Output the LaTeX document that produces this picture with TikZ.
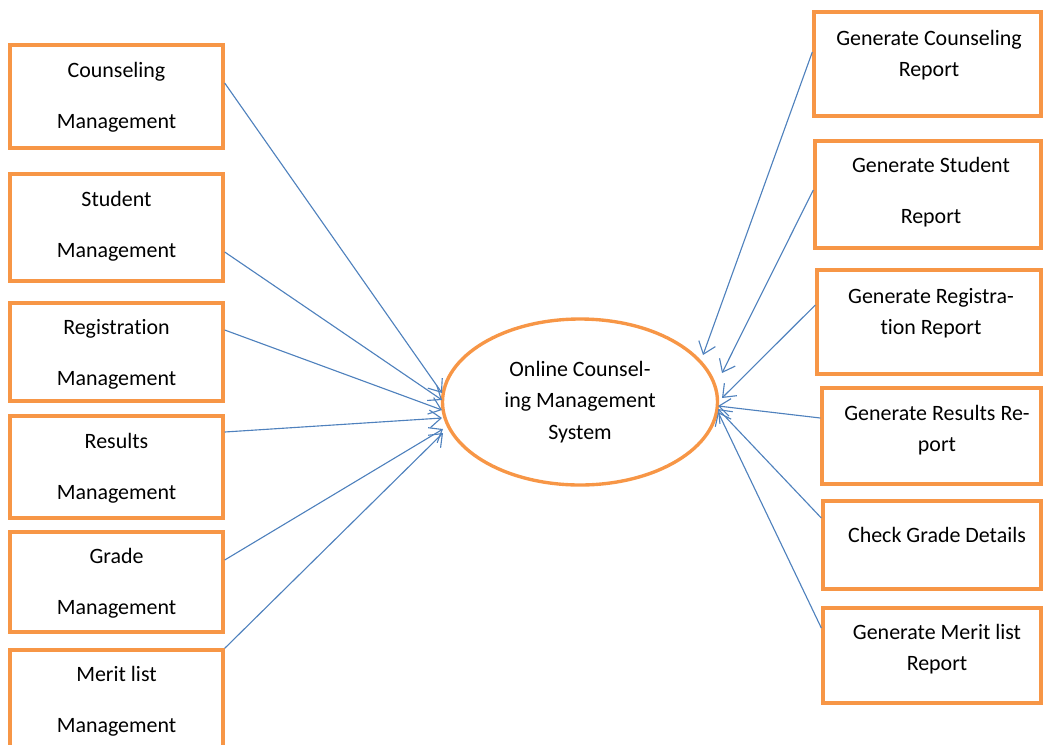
\documentclass[tikz,border=0pt]{standalone}
\usepackage{fontspec}
\setmainfont{Carlito}[Ligatures=NoCommon]
\usetikzlibrary{shapes.geometric,arrows.meta,calc}

\begin{document}
\begin{tikzpicture}[x=0.025cm,y=-0.025cm]
\definecolor{boxorange}{HTML}{F79646}
\definecolor{linkblue}{HTML}{4F81BD}
\def\PX{0.025cm}
\tikzset{
  box/.style={draw=boxorange, line width=2.4pt, inner sep=0pt},
  lbl/.style={align=center, inner sep=0pt, font=\fontsize{15.6}{22}\selectfont},
  link/.style={draw=linkblue, line width=0.8pt, -{Straight Barb[length=2.8mm,width=4.4mm]}}
}
\clip (0,0) rectangle (1043,744);
% modules on the left
\node[box, minimum width=213*\PX, minimum height=103*\PX] (cm) at (116.5,96.5) {};
\node[lbl] (t-cm) at (116.5,97.5) {Counseling\\[14.3pt]Management};
\node[box, minimum width=213*\PX, minimum height=107*\PX] (sm) at (116.5,227.5) {};
\node[lbl] (t-sm) at (116.5,226) {Student\\[14.3pt]Management};
\node[box, minimum width=213*\PX, minimum height=98*\PX] (rm) at (116.5,352) {};
\node[lbl] (t-rm) at (116.5,354.5) {Registration\\[14.3pt]Management};
\node[box, minimum width=213*\PX, minimum height=102*\PX] (resm) at (116.5,467) {};
\node[lbl] (t-resm) at (116.5,468) {Results\\[14.3pt]Management};
\node[box, minimum width=213*\PX, minimum height=100*\PX] (gm) at (116.5,582) {};
\node[lbl] (t-gm) at (116.5,583) {Grade\\[14.3pt]Management};
\node[box, minimum width=213*\PX, minimum height=102*\PX] (mlm) at (116.5,701) {};
\node[lbl] (t-mlm) at (116.5,701) {Merit list\\[14.3pt]Management};
% the system
\node[ellipse, draw=boxorange, line width=2.4pt, minimum width=275*\PX, minimum height=166*\PX, lbl, font=\fontsize{15.6}{22.4}\selectfont] (ocms) at (580,402) {Online Counsel-\\ing Management\\System};
% reports on the right
\node[box, minimum width=227*\PX, minimum height=104*\PX] (gcr) at (927.5,64) {};
\node[lbl] (t-gcr) at (929,55.5) {Generate Counseling\\Report};
\node[box, minimum width=226*\PX, minimum height=107*\PX] (gsr) at (928,194.5) {};
\node[lbl] (t-gsr) at (931,192) {Generate Student\\[14.3pt]Report};
\node[box, minimum width=224*\PX, minimum height=104*\PX] (grr) at (929,322) {};
\node[lbl] (t-grr) at (931,313) {Generate Registra-\\tion Report};
\node[box, minimum width=219*\PX, minimum height=96*\PX] (gres) at (931.5,436) {};
\node[lbl] (t-gres) at (937,430) {Generate Results Re-\\port};
\node[box, minimum width=218*\PX, minimum height=88*\PX] (cgd) at (932,545) {};
\node[lbl] (t-cgd) at (937,535) {Check Grade Details};
\node[box, minimum width=218*\PX, minimum height=95*\PX] (gml) at (932,655.5) {};
\node[lbl] (t-gml) at (937,649.5) {Generate Merit list\\Report};
% links
\draw[link] ($(cm.east)+(0,-13.5)$) -- ($(ocms)+(-138,-9)$);
\draw[link] ($(sm.east)+(0,24.5)$) -- ($(ocms)+(-138,-2)$);
\draw[link] ($(rm.east)+(0,-22)$) -- ($(ocms)+(-138,8)$);
\draw[link] ($(resm.east)+(0,-35)$) -- ($(ocms)+(-138,16)$);
\draw[link] ($(gm.east)+(0,-22)$) -- ($(ocms)+(-137,27)$);
\draw[link] (mlm.north east) -- ($(ocms)+(-137,31)$);
\draw[link] ($(gcr.west)+(0,-12)$) -- ($(ocms)+(123,-47)$);
\draw[link] ($(gsr.west)+(0,-4.5)$) -- ($(ocms)+(142,-29)$);
\draw[link] ($(grr.west)+(0,-17)$) -- ($(ocms)+(142,-4)$);
\draw[link] ($(gres.west)+(0,-18)$) -- ($(ocms)+(138,4)$);
\draw[link] ($(cgd.west)+(0,-27)$) -- ($(ocms)+(138,7)$);
\draw[link] ($(gml.west)+(0,-27.5)$) -- ($(ocms)+(138,10)$);
\end{tikzpicture}
\end{document}
